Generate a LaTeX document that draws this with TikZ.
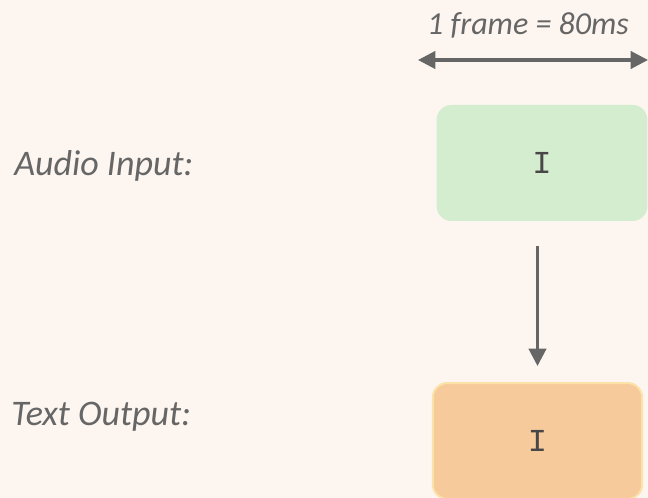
\documentclass[tikz,border=0pt]{standalone}
\usepackage{fontspec}
\setmainfont{Carlito}
\newfontfamily\cursorfont{Liberation Mono}
\usetikzlibrary{arrows.meta}
\definecolor{paper}{HTML}{FDF6F0}
\definecolor{inkgray}{HTML}{666666}
\definecolor{audiofill}{HTML}{D5EDCF}
\definecolor{textfill}{HTML}{F7CA9B}
\definecolor{textrim}{HTML}{FBE2A8}

\begin{document}
\begin{tikzpicture}[x=0.75pt, y=-0.75pt,
		label/.style={font=\fontsize{24}{28}\selectfont\itshape, text=inkgray, anchor=west, inner sep=0pt},
		rowlabel/.style={label, font=\fontsize{27}{32}\selectfont\itshape},
		framebox/.style={rounded corners=11pt, minimum width=158pt, minimum height=87pt, inner sep=0pt, font=\fontsize{24}{26}\cursorfont, text=inkgray!70!black},
		arr/.style={draw=inkgray, line width=2.3pt, -{Triangle[length=13pt, width=13pt]}}]
		\fill[paper] (0,0) rectangle (648,498); \useasboundingbox (0,0) rectangle (648,498);
		% frame length marker
		\node (frame) [label, anchor=center] at (528,25) {1 frame = 80ms};
		\coordinate (fl) at (418,60); \coordinate (fr) at (648,60);
		\draw[arr, {Triangle[length=13pt, width=13pt]}-{Triangle[length=13pt, width=13pt]}] (fl) -- (fr);
		% rows
		\node (audiolbl) [rowlabel] at (14,166) {Audio Input:};
		\node (textlbl) [rowlabel] at (11,417) {Text Output:};
		\node (audio) [framebox, fill=audiofill] at (542,163) {I};
		\node (text) [framebox, fill=textfill, draw=textrim, line width=1.5pt, minimum width=157pt] at (537.5,441) {I};
		\draw[arr, shorten <=18.75pt, shorten >=12pt] (audio.south -| text.north) -- (text.north);
	\end{tikzpicture}
\end{document}
